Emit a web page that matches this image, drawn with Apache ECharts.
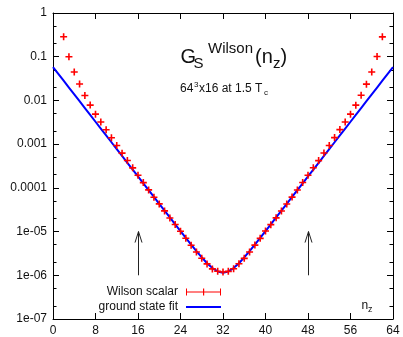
<!DOCTYPE html>
<html>
<head>
<meta charset="utf-8">
<script src="https://cdn.jsdelivr.net/npm/echarts@6/dist/echarts.min.js"></script>
<style>
html,body{margin:0;padding:0;background:#fff}
#chart{width:403px;height:337px}
</style>
</head>
<body>
<div id="chart"></div>
<script>
// Wilson scalar correlator along z, 64^3x16 lattice at 1.5 Tc
const nzPoints = [2,3,4,5,6,7,8,9,10,11,12,13,14,15,16,17,18,19,20,21,22,23,24,25,26,27,28,29,30,31,32,
  33,34,35,36,37,38,39,40,41,42,43,44,45,46,47,48,49,50,51,52,53,54,55,56,57,58,59,60,61,62];
const wilsonScalar = [0.286,0.100,0.0446,0.0237,0.0130,0.00782,0.00486,0.00320,0.00214,0.00140,
  9.33e-4,6.22e-4,4.22e-4,2.87e-4,1.95e-4,1.32e-4,8.99e-5,6.12e-5,4.30e-5,2.97e-5,2.05e-5,1.45e-5,
  1.02e-5,7.05e-6,4.86e-6,3.42e-6,2.45e-6,1.82e-6,1.40e-6,1.24e-6,1.19e-6,
  1.23e-6,1.41e-6,1.83e-6,2.44e-6,3.40e-6,4.90e-6,7.00e-6,1.03e-5,1.44e-5,2.06e-5,2.95e-5,4.28e-5,
  6.15e-5,8.95e-5,1.33e-4,1.94e-4,2.88e-4,4.20e-4,6.25e-4,9.30e-4,1.41e-3,2.15e-3,3.22e-3,4.85e-3,
  7.80e-3,0.0131,0.0236,0.0447,0.101,0.285];

// ground state (cosh) fit, sampled at every nz
const fitNz = [0,1,2,3,4,5,6,7,8,9,10,11,12,13,14,15,16,17,18,19,20,21,22,23,24,25,26,27,28,29,30,31,32,
  33,34,35,36,37,38,39,40,41,42,43,44,45,46,47,48,49,50,51,52,53,54,55,56,57,58,59,60,61,62,63,64];
const groundStateFit = [5.799e-2,4.046e-2,2.822e-2,1.969e-2,1.373e-2,9.583e-3,6.684e-3,4.663e-3,3.253e-3,
  2.270e-3,1.584e-3,1.105e-3,7.704e-4,5.376e-4,3.750e-4,2.616e-4,1.824e-4,1.273e-4,8.880e-5,6.196e-5,
  4.321e-5,3.015e-5,2.106e-5,1.469e-5,1.026e-5,7.183e-6,5.047e-6,3.573e-6,2.568e-6,1.882e-6,1.460e-6,
  1.223e-6,1.148e-6,1.223e-6,1.460e-6,1.882e-6,2.568e-6,3.573e-6,5.047e-6,7.183e-6,1.026e-5,1.469e-5,
  2.106e-5,3.015e-5,4.321e-5,6.196e-5,8.880e-5,1.273e-4,1.824e-4,2.616e-4,3.750e-4,5.376e-4,7.704e-4,
  1.105e-3,1.584e-3,2.270e-3,3.253e-3,4.663e-3,6.684e-3,9.583e-3,1.373e-2,1.969e-2,2.822e-2,4.046e-2,5.799e-2];

// axis ticks
const xRange = [0, 64];
const xStep = 8;
const yRange = [1e-7, 1];
const yTickLabels = ['1e-07','1e-06','1e-05','0.0001','0.001','0.01','0.1','1'];
const yMinorTicks = [2e-7,5e-7,2e-6,5e-6,2e-5,5e-5,2e-4,5e-4,2e-3,5e-3,2e-2,5e-2,0.2,0.5];

// fit window markers
const arrowNz = [16, 48];
const arrowFrom = 1e-6;
const arrowTo = 1e-5;

const FONT = "'Liberation Sans', Arial, Helvetica, sans-serif";
const INK = '#111';

const plusIcon = 'path://M2.7,0H4.3V2.7H7V4.3H4.3V7H2.7V4.3H0V2.7H2.7Z';
const errIcon = 'path://M0,0H1V3H17V0H18.2V3H34V0H35V7H34V4H18.2V7H17V4H1V7H0Z';
const lineIcon = 'path://M0,0H35V2H0Z';

const chart = echarts.init(document.getElementById('chart'), null, {renderer: 'canvas'});

function yLabel(v) {
  const e = Math.round(Math.log10(v));
  return yTickLabels[e + 7] || '';
}

const baseY = {
  type: 'log', logBase: 10, min: yRange[0], max: yRange[1], splitNumber: 7,
  splitLine: {show: false}, minorTick: {show: false}
};
const baseX = {
  type: 'value', min: xRange[0], max: xRange[1], interval: xStep,
  splitLine: {show: false}
};

const txt = (text, x, y, size) => ({
  type: 'text', x: x, y: y, silent: true,
  style: {text: text, font: size + 'px ' + FONT, fill: INK, verticalAlign: 'middle', align: 'left'}
});

chart.setOption({
  animation: false,
  backgroundColor: '#fff',
  grid: {left: 53, right: 10, top: 13, bottom: 18, containLabel: false, outerBoundsMode: 'none'},
  xAxis: [
    Object.assign({}, baseX, {
      position: 'bottom',
      axisLine: {show: true, onZero: false, lineStyle: {color: '#000', width: 1}},
      axisTick: {show: true, inside: true, length: 6, lineStyle: {color: '#000'}},
      axisLabel: {show: true, margin: 6, color: INK, fontSize: 12, fontFamily: FONT}
    }),
    Object.assign({}, baseX, {
      position: 'top',
      axisLine: {show: true, onZero: false, lineStyle: {color: '#000', width: 1}},
      axisTick: {show: true, inside: true, length: 6, lineStyle: {color: '#000'}},
      axisLabel: {show: false}
    })
  ],
  yAxis: [
    Object.assign({}, baseY, {
      position: 'left',
      axisLine: {show: true, lineStyle: {color: '#000', width: 1}},
      axisTick: {show: true, inside: true, length: 6, lineStyle: {color: '#000'}},
      axisLabel: {show: true, margin: 6, color: INK, fontSize: 12, fontFamily: FONT, formatter: yLabel}
    }),
    Object.assign({}, baseY, {
      position: 'left',
      axisLine: {show: false},
      axisTick: {show: true, inside: true, length: 3.5, customValues: yMinorTicks, lineStyle: {color: '#000'}},
      axisLabel: {show: false}
    }),
    Object.assign({}, baseY, {
      position: 'right',
      axisLine: {show: true, lineStyle: {color: '#000', width: 1}},
      axisTick: {show: true, inside: true, length: 6, lineStyle: {color: '#000'}},
      axisLabel: {show: false}
    }),
    Object.assign({}, baseY, {
      position: 'right',
      axisLine: {show: false},
      axisTick: {show: true, inside: true, length: 3.5, customValues: yMinorTicks, lineStyle: {color: '#000'}},
      axisLabel: {show: false}
    })
  ],
  legend: {
    orient: 'vertical', align: 'right', right: 182, top: 286,
    itemWidth: 35, itemHeight: 7, itemGap: 3, selectedMode: false, padding: 0,
    textStyle: {fontSize: 12, color: INK, fontFamily: FONT, padding: [0, 3, 0, 0]},
    data: [
      {name: 'Wilson scalar', icon: errIcon},
      {name: 'ground state fit', icon: lineIcon}
    ]
  },
  series: [
    {
      name: 'ground state fit', type: 'line', xAxisIndex: 0, yAxisIndex: 0,
      data: fitNz.map((n, i) => [n, groundStateFit[i]]),
      showSymbol: false, smooth: false, silent: true,
      lineStyle: {color: '#0000ff', width: 2},
      itemStyle: {color: '#0000ff'},
      z: 2
    },
    {
      name: 'Wilson scalar', type: 'scatter', xAxisIndex: 0, yAxisIndex: 0,
      data: nzPoints.map((n, i) => [n, wilsonScalar[i]]),
      symbol: plusIcon, symbolSize: 7, silent: true,
      itemStyle: {color: '#ff0000', opacity: 1},
      z: 3
    },
    {
      type: 'custom', xAxisIndex: 0, yAxisIndex: 0, silent: true,
      data: arrowNz.map(n => [n, arrowFrom, arrowTo]),
      renderItem: function (params, api) {
        const p0 = api.coord([api.value(0), api.value(1)]);
        const p1 = api.coord([api.value(0), api.value(2)]);
        const x = Math.round(p0[0]) + 0.5;
        return {
          type: 'group',
          children: [
            {type: 'line', shape: {x1: x, y1: p0[1], x2: x, y2: p1[1]}, style: {stroke: '#222', lineWidth: 1}},
            {type: 'polyline', shape: {points: [[x - 3.5, p1[1] + 11], [x, p1[1]], [x + 3.5, p1[1] + 11]]},
             style: {stroke: '#222', fill: null, lineWidth: 1}}
          ]
        };
      },
      z: 1
    }
  ],
  graphic: [
    // G_S^Wilson(n_z)
    txt('G', 180.5, 57.9, 20),
    txt('S', 193.5, 63.5, 15),
    txt('Wilson', 208, 48.5, 15),
    txt('(n', 255, 57.9, 20),
    txt('z', 273, 63.5, 15),
    txt(')', 280.5, 57.9, 20),
    // 64^3x16 at 1.5 T_c
    txt('64', 180, 88.9, 12),
    txt('3', 194, 84.7, 8),
    txt('x16 at 1.5 T', 199, 88.9, 12),
    txt('c', 264, 93, 8),
    // axis name n_z
    txt('n', 361.5, 305.5, 12),
    txt('z', 368, 309.8, 9)
  ]
});
</script>
</body>
</html>
